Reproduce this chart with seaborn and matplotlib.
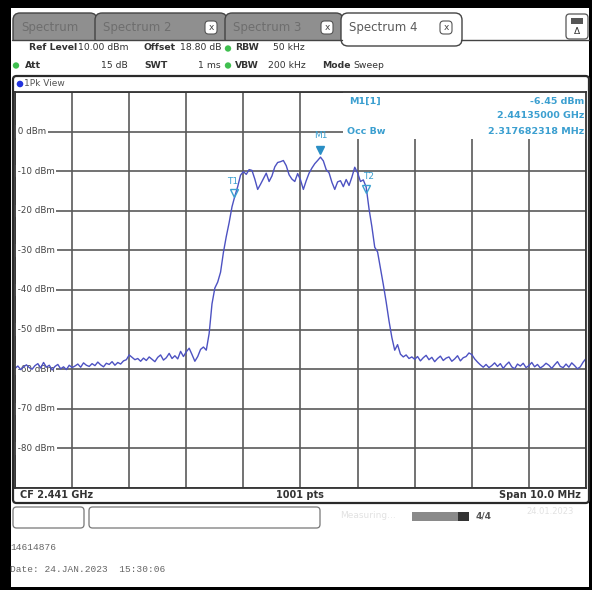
import numpy as np
import pandas as pd
import matplotlib.pyplot as plt
import seaborn as sns
from matplotlib.patches import Rectangle, FancyBboxPatch, Circle

# sweep settings
center_ghz = 2.441
span_mhz = 10.0
ref_level = 10.0
bottom_level = -90.0
n_trace = 201

# trace levels in dBm, -5.00 .. +5.00 MHz around CF in 0.05 MHz steps
level_dbm = [
    -59.8, -59.2, -60.1, -59.4, -58.9, -59.6, -60.0, -59.1, -58.6, -59.7, -58.3,
    -59.5, -59.0, -60.2, -59.3, -58.8, -59.9, -59.4, -60.1, -59.0, -59.6,
    -59.2, -58.7, -59.5, -58.4, -59.0, -59.3, -58.6, -59.1, -58.2, -58.9,
    -59.4, -58.5, -58.8, -58.1, -59.0, -58.3, -58.7, -57.9, -57.6, -56.4,
    -57.0, -57.6, -57.3, -58.0, -57.2, -57.8, -56.9, -57.5, -58.1, -57.0,
    -56.4, -57.7, -57.1, -56.0, -57.3, -56.6, -57.4, -55.5, -56.8, -55.6,
    -54.7, -56.3, -58.0, -56.8, -55.0, -54.4, -55.2, -51.0, -43.5, -39.5,
    -38.0, -35.5, -30.5, -26.5, -23.0, -19.0, -16.3, -13.9, -11.0, -10.1,
    -10.8, -9.6, -9.8, -12.0, -14.6, -13.3, -11.9, -10.5, -12.6, -11.2,
    -8.9, -7.8, -7.6, -7.3, -8.6, -10.9, -12.0, -12.6, -10.6, -12.2,
    -14.6, -12.4, -10.5, -9.2, -8.1, -7.3, -6.45, -7.4, -9.6, -10.4,
    -12.8, -14.6, -12.7, -12.4, -13.9, -12.1, -13.6, -11.5, -9.0, -10.4,
    -12.6, -12.2, -14.0, -19.5, -24.0, -29.2, -30.4, -34.5, -38.6, -43.0,
    -47.8, -52.0, -55.2, -53.8, -56.2, -56.9, -56.4, -57.3, -56.9, -57.5,
    -56.8, -57.9, -57.1, -56.5, -57.6, -57.0, -58.1, -57.3, -56.7, -57.8,
    -57.2, -56.9, -58.0, -57.4, -56.6, -57.9, -57.1, -56.8, -55.9, -56.3,
    -57.4, -58.2, -58.9, -59.5, -58.8, -59.6, -59.1, -58.4, -59.3, -58.6,
    -59.8, -58.9, -58.2, -59.4, -59.9, -58.7, -59.2, -58.5, -59.6, -59.1,
    -58.3, -59.4, -58.8, -59.7, -59.2, -58.5, -59.0, -59.8, -58.9, -58.1,
    -59.3, -59.6, -58.7, -59.5, -58.4, -59.1, -59.9, -59.4, -58.2, -57.3,
]

# markers: M1 peak, T1/T2 occupied bandwidth edges
marker_names = ["M1", "T1", "T2"]
marker_freq = [2.44135, 2.439835, 2.442153]
marker_level = [-6.45, -16.8, -15.6]

level_ticks = [0, -10, -20, -30, -40, -50, -60, -70, -80]
tab_names = ["Spectrum", "Spectrum 2", "Spectrum 3", "Spectrum 4"]

f_lo = center_ghz - span_mhz / 2000
f_hi = center_ghz + span_mhz / 2000
df = pd.DataFrame({
    "freq_ghz": np.linspace(f_lo, f_hi, n_trace),
    "level_dbm": level_dbm,
})

sns.set_theme(style="white")
plt.rcParams["font.family"] = ["DejaVu Sans"]

W, H = 592, 590
fig = plt.figure(figsize=(W / 100, H / 100), dpi=100, facecolor="black")


def fx(px):
    return px / W


def fy(py):
    return 1 - py / H


def box(x0, y0, x1, y1, **kw):
    # rectangle given in screen pixels (top-left origin)
    p = Rectangle((fx(x0), fy(y1)), fx(x1) - fx(x0), fy(y0) - fy(y1),
                  transform=fig.transFigure, **kw)
    fig.add_artist(p)
    return p


def rbox(x0, y0, x1, y1, pad=0.004, **kw):
    p = FancyBboxPatch((fx(x0), fy(y1)), fx(x1) - fx(x0), fy(y0) - fy(y1),
                       boxstyle=f"round,pad=0,rounding_size={pad}",
                       transform=fig.transFigure, **kw)
    fig.add_artist(p)
    return p


def txt(x, y, s, **kw):
    kw.setdefault("va", "center")
    kw.setdefault("fontsize", 7)
    kw.setdefault("color", "#333333")
    fig.text(fx(x), fy(y), s, **kw)


# white screen inside the black frame
box(11, 8, 589, 587, facecolor="white", edgecolor="none")

# tab bar
tab_x = [(13, 97), (95, 227), (225, 343), (341, 462)]
for i, (name, (a, b)) in enumerate(zip(tab_names, tab_x)):
    active = i == len(tab_names) - 1
    rbox(a, 13, b, 46, pad=0.012,
         facecolor="white" if active else "#8f8f8f",
         edgecolor="#444444", lw=1.0, zorder=2 + (3 if active else 0))
    txt(a + 8, 28, name, fontsize=8.5, color="#5a5a5a" if active else "#6e6e6e",
        zorder=6)
    if i > 0:
        rbox(b - 22, 21, b - 10, 34, pad=0.006, facecolor="white",
             edgecolor="#555555", lw=0.8, zorder=6)
        txt(b - 16, 27.5, "x", ha="center", fontsize=6.5, color="#444444", zorder=7)

# settings icon top right
rbox(566, 14, 588, 39, pad=0.006, facecolor="white", edgecolor="#555555", lw=0.9)
box(571, 18, 583, 24, facecolor="#555555", edgecolor="none")
txt(577, 31, "Δ", ha="center", fontsize=6.5, color="#333333")

# header area
box(12, 40, 589, 76, facecolor="white", edgecolor="none", zorder=4)
fig.add_artist(plt.Line2D([fx(12), fx(342)], [fy(40), fy(40)],
                          transform=fig.transFigure, color="#444444", lw=1.0, zorder=5))
fig.add_artist(plt.Line2D([fx(461), fx(589)], [fy(40), fy(40)],
                          transform=fig.transFigure, color="#444444", lw=1.0, zorder=5))
green = "#3fbf4f"
hs = 6.7
txt(29, 48, "Ref Level", weight="bold", fontsize=hs, zorder=6)
txt(128, 48, "10.00 dBm", ha="right", fontsize=hs, zorder=6)
txt(144, 48, "Offset", weight="bold", fontsize=hs, zorder=6)
txt(221, 48, "18.80 dB", ha="right", fontsize=hs, zorder=6)
txt(235, 48, "RBW", weight="bold", fontsize=hs, zorder=6)
txt(305, 48, "50 kHz", ha="right", fontsize=hs, zorder=6)
txt(25, 65, "Att", weight="bold", fontsize=hs, zorder=6)
txt(128, 65, "15 dB", ha="right", fontsize=hs, zorder=6)
txt(144, 65, "SWT", weight="bold", fontsize=hs, zorder=6)
txt(221, 65, "1 ms", ha="right", fontsize=hs, zorder=6)
txt(235, 65, "VBW", weight="bold", fontsize=hs, zorder=6)
txt(306, 65, "200 kHz", ha="right", fontsize=hs, zorder=6)
txt(322, 66, "Mode", weight="bold", fontsize=hs, zorder=6)
txt(353, 66, "Sweep", fontsize=hs, zorder=6)
for (cx, cy) in [(228, 48.5), (16, 65.5), (228, 65.5)]:
    fig.add_artist(Circle((fx(cx), fy(cy)), 3.2 / W, transform=fig.transFigure,
                          facecolor=green, edgecolor="none", zorder=6))

# window frame around the diagram
rbox(13, 76, 589, 503, pad=0.006, facecolor="white", edgecolor="#2a2a2a", lw=1.6, zorder=4)
fig.add_artist(Circle((fx(20), fy(84)), 3.3 / W, transform=fig.transFigure,
                      facecolor="#2233dd", edgecolor="none", zorder=6))
txt(24, 84, "1Pk View", fontsize=6.5, color="#555555", zorder=6)
txt(20, 495.5, "CF 2.441 GHz", weight="bold", zorder=6)
txt(300, 495.5, "1001 pts", weight="bold", ha="center", zorder=6)
txt(581, 495.5, "Span 10.0 MHz", weight="bold", ha="right", zorder=6)

# diagram
ax = fig.add_axes([fx(15), fy(488), fx(586) - fx(15), fy(92) - fy(488)], zorder=5)
ax.set_facecolor("white")
ax.set_xlim(f_lo, f_hi)
ax.set_ylim(bottom_level, ref_level)
ax.set_xticks(np.linspace(f_lo, f_hi, 11))
ax.set_yticks(np.arange(bottom_level, ref_level + 1, 10))
ax.grid(True, color="#5a5a5a", lw=1.2)
ax.tick_params(length=0, labelbottom=False, labelleft=False)
for s in ax.spines.values():
    s.set_color("#333333")
    s.set_linewidth(1.3)
    s.set_zorder(7)

for lv in level_ticks:
    ax.text(0.0, lv, f" {lv} dBm", transform=ax.get_yaxis_transform(),
            va="center", ha="left", fontsize=6.3, color="#444444", clip_on=True,
            bbox=dict(facecolor="white", edgecolor="none", pad=1.2), zorder=3)

# marker info block hides the grid behind it
ax.add_patch(Rectangle((2.44175, -1.8), f_hi - 2.44175, ref_level + 1.8,
                       facecolor="white", edgecolor="none", zorder=2.5))

sns.lineplot(data=df, x="freq_ghz", y="level_dbm", ax=ax, color="#4d52c2",
             lw=1.0, zorder=4)
ax.set_xlabel("")
ax.set_ylabel("")

cyan = "#3b9fd0"
for name, f, lv in zip(marker_names, marker_freq, marker_level):
    if name == "M1":
        ax.plot(f, lv + 1.8, marker="v", ms=5.5, color="#2a8ec4", zorder=6)
        ax.text(f, lv + 5.5, name, ha="center", va="center", fontsize=6.5,
                color=cyan, zorder=6)
    else:
        ax.plot(f, lv + 1.2, marker="v", ms=5.5, mfc="none", mec=cyan, mew=1.0,
                zorder=6)
        ax.text(f + (-0.00002 if name == "T1" else 0.00004), lv + 4.2, name,
                ha="center", va="center", fontsize=6.5, color=cyan, zorder=6)

ax.text(2.44185, 7.6, "M1[1]", fontsize=6.8, color=cyan, weight="bold", va="center", zorder=6)
ax.text(0.997, 7.6, "-6.45 dBm", transform=ax.get_yaxis_transform(), ha="right",
        fontsize=6.8, color=cyan, weight="bold", va="center", zorder=6)
ax.text(0.997, 4.1, "2.44135000 GHz", transform=ax.get_yaxis_transform(), ha="right",
        fontsize=6.8, color=cyan, weight="bold", va="center", zorder=6)
ax.text(2.44182, 0.0, "Occ Bw", fontsize=6.8, color=cyan, weight="bold", va="center", zorder=6)
ax.text(0.997, 0.0, "2.317682318 MHz", transform=ax.get_yaxis_transform(), ha="right",
        fontsize=6.8, color=cyan, weight="bold", va="center", zorder=6)

# status bar
rbox(13, 507, 84, 528, pad=0.006, facecolor="white", edgecolor="#777777", lw=0.9)
rbox(89, 507, 320, 528, pad=0.006, facecolor="white", edgecolor="#777777", lw=0.9)
txt(340, 516, "Measuring...", fontsize=6.5, color="#e2e2e2")
box(412, 512, 458, 521, facecolor="#8a8a8a", edgecolor="none")
box(458, 512, 469, 521, facecolor="#333333", edgecolor="none")
txt(484, 516, "4/4", fontsize=6.5, weight="bold", color="#555555", ha="center")
txt(526, 512, "24.01.2023", fontsize=6, color="#e2e2e2")

# printout footer
txt(10, 548, "14614876", family="Liberation Mono", fontsize=6.8, color="#666666")
txt(10, 570, "Date: 24.JAN.2023  15:30:06", family="Liberation Mono", fontsize=6.8,
    color="#666666")

fig.savefig("out.png", dpi=100, facecolor="black")
